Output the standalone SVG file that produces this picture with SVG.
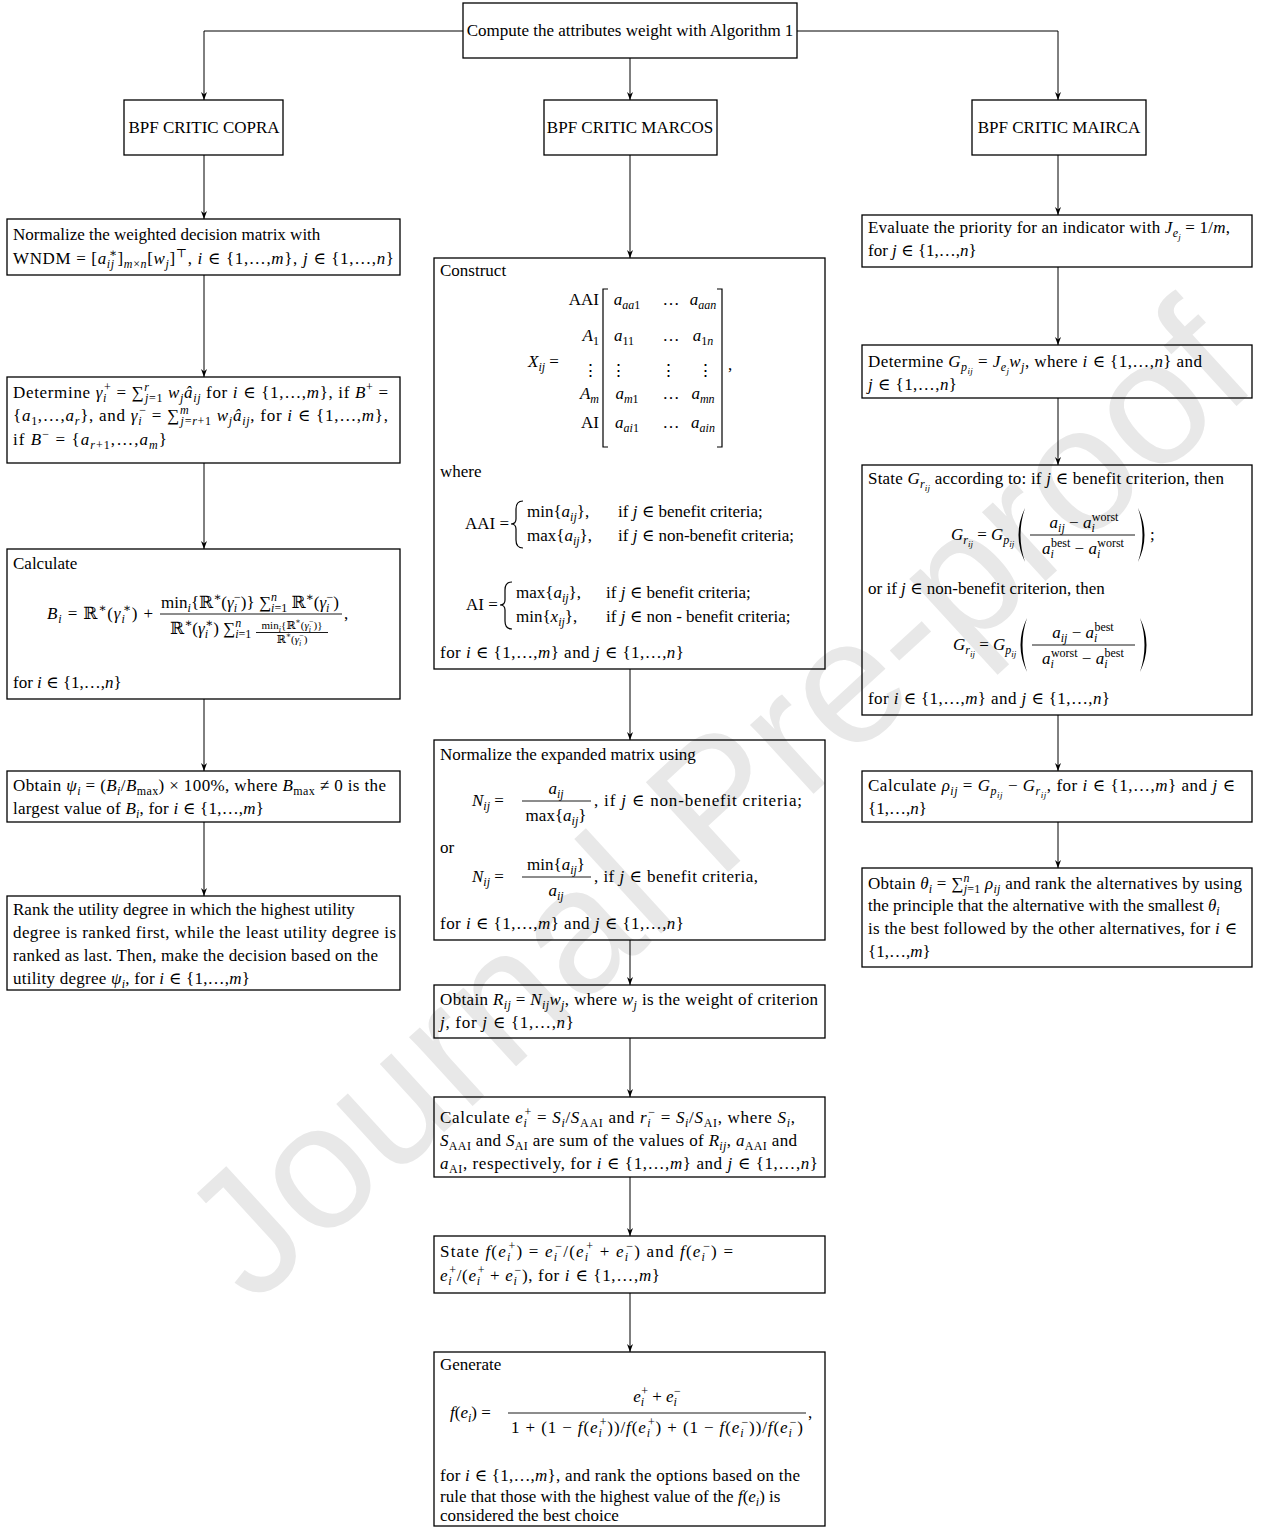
<svg xmlns="http://www.w3.org/2000/svg" width="1265" height="1528" viewBox="0 0 1265 1528">
<style>
.t{font-family:"Liberation Serif","DejaVu Serif",serif;font-size:17px;fill:#000}
.i{font-style:italic}
.sb{font-size:12px;baseline-shift:-4px}
.sp{font-size:12px;baseline-shift:7px}
.sbb{font-size:9px;baseline-shift:-7px}
.box{fill:none;stroke:#000;stroke-width:1.3}
.c{stroke:#000;stroke-width:1;fill:none}
.m{text-anchor:middle}
.e{text-anchor:end}
.bar{stroke:#000;stroke-width:0.9}
.br{fill:none;stroke:#000;stroke-width:1.2}
.wm{font-family:"Liberation Sans",Arial,sans-serif;font-size:177px;fill:#e8e8e8}
</style>
<defs>
<marker id="ah" markerUnits="userSpaceOnUse" markerWidth="10" markerHeight="8" refX="8" refY="4" orient="auto">
<path d="M0,1 L8,4 L0,7 L2.5,4 z" fill="#000"/>
</marker>
</defs>
<rect width="1265" height="1528" fill="#fff"/>
<text class="wm m" transform="translate(714,798) rotate(-42.5)" y="64">Journal Pre-proof</text>

<g id="connectors" class="c" marker-end="url(#ah)">
<path d="M463,31 H204 V100"/>
<path d="M797,31 H1058 V100"/>
<path d="M630,58 V100"/>
<path d="M204,155 V219"/>
<path d="M204,275 V377"/>
<path d="M204,463 V549"/>
<path d="M204,699 V771"/>
<path d="M204,822 V896"/>
<path d="M630,155 V258"/>
<path d="M630,669 V740"/>
<path d="M630,940 V985"/>
<path d="M630,1038 V1097"/>
<path d="M630,1177 V1236"/>
<path d="M630,1293 V1352"/>
<path d="M1058,155 V215"/>
<path d="M1058,267 V345"/>
<path d="M1058,398 V465"/>
<path d="M1058,715 V771"/>
<path d="M1058,822 V868"/>
</g>

<g class="t">
<g id="n-top">
<rect class="box" x="463" y="3" width="334" height="55"/>
<text class="m" x="630" y="36">Compute the attributes weight with Algorithm 1</text>
</g>
<g id="n-copra">
<rect class="box" x="124" y="100" width="159" height="55"/>
<text class="m" x="204" y="133">BPF CRITIC COPRA</text>
</g>
<g id="n-marcos">
<rect class="box" x="544" y="100" width="173" height="55"/>
<text class="m" x="630" y="133">BPF CRITIC MARCOS</text>
</g>
<g id="n-mairca">
<rect class="box" x="972" y="100" width="174" height="55"/>
<text class="m" x="1059" y="133">BPF CRITIC MAIRCA</text>
</g>

<g id="n-l1">
<rect class="box" x="7" y="219" width="393" height="56"/>
<text x="13" y="240">Normalize the weighted decision matrix with</text>
<text x="13" y="264" textLength="381" lengthAdjust="spacing">WNDM = [<tspan class="i">a</tspan><tspan class="sb i">ij</tspan><tspan class="sp" dx="-6">∗</tspan>]<tspan class="sb"><tspan class="i">m</tspan>×<tspan class="i">n</tspan></tspan>[<tspan class="i">w</tspan><tspan class="sb i">j</tspan>]<tspan class="sp">⊤</tspan>, <tspan class="i">i</tspan> ∈ {1,…,<tspan class="i">m</tspan>}, <tspan class="i">j</tspan> ∈ {1,…,<tspan class="i">n</tspan>}</text>
</g>
<g id="n-l2">
<rect class="box" x="7" y="377" width="393" height="86"/>
<text x="13" y="398" textLength="375" lengthAdjust="spacing">Determine <tspan class="i">γ</tspan><tspan class="sb i">i</tspan><tspan class="sp" dx="-3">+</tspan> = ∑<tspan class="sp i">r</tspan><tspan class="sb" dx="-4.7"><tspan class="i">j</tspan>=1</tspan> <tspan class="i">w</tspan><tspan class="sb i">j</tspan><tspan class="i">â</tspan><tspan class="sb i">ij</tspan> for <tspan class="i">i</tspan> ∈ {1,…,<tspan class="i">m</tspan>}, if <tspan class="i">B</tspan><tspan class="sp">+</tspan> =</text>
<text x="13" y="421" textLength="375" lengthAdjust="spacing">{<tspan class="i">a</tspan><tspan class="sb">1</tspan>,…,<tspan class="i">a</tspan><tspan class="sb i">r</tspan>}, and <tspan class="i">γ</tspan><tspan class="sb i">i</tspan><tspan class="sp" dx="-3">−</tspan> = ∑<tspan class="sp i">m</tspan><tspan class="sb" dx="-8.7"><tspan class="i">j</tspan>=<tspan class="i">r</tspan>+1</tspan> <tspan class="i">w</tspan><tspan class="sb i">j</tspan><tspan class="i">â</tspan><tspan class="sb i">ij</tspan>, for <tspan class="i">i</tspan> ∈ {1,…,<tspan class="i">m</tspan>},</text>
<text x="13" y="445" textLength="154" lengthAdjust="spacing">if <tspan class="i">B</tspan><tspan class="sp">−</tspan> = {<tspan class="i">a</tspan><tspan class="sb"><tspan class="i">r</tspan>+1</tspan>,…,<tspan class="i">a</tspan><tspan class="sb i">m</tspan>}</text>
</g>
<g id="n-l3">
<rect class="box" x="7" y="549" width="393" height="150"/>
<text x="13" y="569">Calculate</text>
<text x="47" y="619" textLength="106" lengthAdjust="spacing"><tspan class="i">B</tspan><tspan class="sb i">i</tspan> = ℝ<tspan class="sp">∗</tspan>(<tspan class="i">γ</tspan><tspan class="sb i">i</tspan><tspan class="sp" dx="-3">∗</tspan>) +</text>
<line class="bar" x1="160" y1="614" x2="342" y2="614"/>
<text class="m" x="250" y="608">min<tspan class="sb i">i</tspan>{ℝ<tspan class="sp">∗</tspan>(<tspan class="i">γ</tspan><tspan class="sb i">i</tspan><tspan class="sp" dx="-3">−</tspan>)} ∑<tspan class="sp i">n</tspan><tspan class="sb" dx="-6"><tspan class="i">i</tspan>=1</tspan> ℝ<tspan class="sp">∗</tspan>(<tspan class="i">γ</tspan><tspan class="sb i">i</tspan><tspan class="sp" dx="-3">−</tspan>)</text>
<text x="170" y="634">ℝ<tspan class="sp">∗</tspan>(<tspan class="i">γ</tspan><tspan class="sb i">i</tspan><tspan class="sp" dx="-3">∗</tspan>) ∑<tspan class="sp i">n</tspan><tspan class="sb" dx="-6"><tspan class="i">i</tspan>=1</tspan></text>
<line class="bar" x1="256" y1="632.5" x2="328" y2="632.5"/>
<text class="m" x="292" y="629" style="font-size:11px">min<tspan style="font-size:8px;baseline-shift:-3px" class="i">i</tspan>{ℝ<tspan style="font-size:8px;baseline-shift:5px">∗</tspan>(<tspan class="i">γ</tspan><tspan style="font-size:8px;baseline-shift:-3px" class="i">i</tspan><tspan style="font-size:8px;baseline-shift:5px" dx="-2">−</tspan>)}</text>
<text class="m" x="292" y="643" style="font-size:11px">ℝ<tspan style="font-size:8px;baseline-shift:5px">∗</tspan>(<tspan class="i">γ</tspan><tspan style="font-size:8px;baseline-shift:-3px" class="i">i</tspan><tspan style="font-size:8px;baseline-shift:5px" dx="-2">−</tspan>)</text>
<text x="344" y="619">,</text>
<text x="13" y="688">for <tspan class="i">i</tspan> ∈ {1,…,<tspan class="i">n</tspan>}</text>
</g>
<g id="n-l4">
<rect class="box" x="7" y="771" width="393" height="51"/>
<text x="13" y="791" textLength="373" lengthAdjust="spacing">Obtain <tspan class="i">ψ</tspan><tspan class="sb i">i</tspan> = (<tspan class="i">B</tspan><tspan class="sb i">i</tspan>/<tspan class="i">B</tspan><tspan class="sb">max</tspan>) × 100%, where <tspan class="i">B</tspan><tspan class="sb">max</tspan> ≠ 0 is the</text>
<text x="13" y="814" textLength="251" lengthAdjust="spacing">largest value of <tspan class="i">B</tspan><tspan class="sb i">i</tspan>, for <tspan class="i">i</tspan> ∈ {1,…,<tspan class="i">m</tspan>}</text>
</g>
<g id="n-l5">
<rect class="box" x="7" y="896" width="393" height="94"/>
<text x="13" y="915">Rank the utility degree in which the highest utility</text>
<text x="13" y="938" textLength="383" lengthAdjust="spacing">degree is ranked first, while the least utility degree is</text>
<text x="13" y="961" textLength="365" lengthAdjust="spacing">ranked as last. Then, make the decision based on the</text>
<text x="13" y="984" textLength="237" lengthAdjust="spacing">utility degree <tspan class="i">ψ</tspan><tspan class="sb i">i</tspan>, for <tspan class="i">i</tspan> ∈ {1,…,<tspan class="i">m</tspan>}</text>
</g>

<g id="n-m1">
<rect class="box" x="434" y="258" width="391" height="411"/>
<text x="440" y="276">Construct</text>
<text x="528" y="367"><tspan class="i">X</tspan><tspan class="sb i">ij</tspan> =</text>
<text class="e" x="599" y="305">AAI</text>
<text class="e" x="599" y="341"><tspan class="i">A</tspan><tspan class="sb">1</tspan></text>
<text class="e" x="599" y="376">⋮</text>
<text class="e" x="599" y="399"><tspan class="i">A</tspan><tspan class="sb i">m</tspan></text>
<text class="e" x="599" y="428">AI</text>
<path class="br" d="M608,289 H603 V447 H608 M717,289 H722 V447 H717"/>
<text class="m" x="627" y="305"><tspan class="i">a</tspan><tspan class="sb"><tspan class="i">aa</tspan>1</tspan></text>
<text class="m" x="671" y="305">…</text>
<text class="m" x="703" y="305"><tspan class="i">a</tspan><tspan class="sb i">aan</tspan></text>
<text class="m" x="624" y="341"><tspan class="i">a</tspan><tspan class="sb">11</tspan></text>
<text class="m" x="671" y="341">…</text>
<text class="m" x="703" y="341"><tspan class="i">a</tspan><tspan class="sb">1<tspan class="i">n</tspan></tspan></text>
<text class="m" x="618" y="376">⋮</text>
<text class="m" x="668" y="376">⋮</text>
<text class="m" x="705" y="376">⋮</text>
<text class="m" x="627" y="399"><tspan class="i">a</tspan><tspan class="sb"><tspan class="i">m</tspan>1</tspan></text>
<text class="m" x="671" y="399">…</text>
<text class="m" x="703" y="399"><tspan class="i">a</tspan><tspan class="sb i">mn</tspan></text>
<text class="m" x="627" y="428"><tspan class="i">a</tspan><tspan class="sb"><tspan class="i">ai</tspan>1</tspan></text>
<text class="m" x="671" y="428">…</text>
<text class="m" x="703" y="428"><tspan class="i">a</tspan><tspan class="sb i">ain</tspan></text>
<text x="728" y="370">,</text>
<text x="440" y="477">where</text>
<text x="465" y="529">AAI =</text>
<path class="br" d="M523,501 Q516,501 516,509 V519 Q516,524 511,524 Q516,524 516,529 V540 Q516,548 523,548"/>
<text x="527" y="517">min{<tspan class="i">a</tspan><tspan class="sb i">ij</tspan>},</text>
<text x="618" y="517">if <tspan class="i">j</tspan> ∈ benefit criteria;</text>
<text x="527" y="541">max{<tspan class="i">a</tspan><tspan class="sb i">ij</tspan>},</text>
<text x="618" y="541">if <tspan class="i">j</tspan> ∈ non-benefit criteria;</text>
<text x="466" y="610">AI =</text>
<path class="br" d="M512,582 Q505,582 505,590 V600 Q505,605 500,605 Q505,605 505,610 V621 Q505,629 512,629"/>
<text x="516" y="598">max{<tspan class="i">a</tspan><tspan class="sb i">ij</tspan>},</text>
<text x="606" y="598">if <tspan class="i">j</tspan> ∈ benefit criteria;</text>
<text x="516" y="622">min{<tspan class="i">x</tspan><tspan class="sb i">ij</tspan>},</text>
<text x="606" y="622">if <tspan class="i">j</tspan> ∈ non - benefit criteria;</text>
<text x="440" y="658" textLength="244" lengthAdjust="spacing">for <tspan class="i">i</tspan> ∈ {1,…,<tspan class="i">m</tspan>} and <tspan class="i">j</tspan> ∈ {1,…,<tspan class="i">n</tspan>}</text>
</g>
<g id="n-m2">
<rect class="box" x="434" y="740" width="391" height="200"/>
<text x="440" y="760">Normalize the expanded matrix using</text>
<text x="472" y="806"><tspan class="i">N</tspan><tspan class="sb i">ij</tspan> =</text>
<line class="bar" x1="522" y1="801" x2="591" y2="801"/>
<text class="m" x="556" y="794"><tspan class="i">a</tspan><tspan class="sb i">ij</tspan></text>
<text class="m" x="556" y="821">max{<tspan class="i">a</tspan><tspan class="sb i">ij</tspan>}</text>
<text x="594" y="806" textLength="208" lengthAdjust="spacing">, if <tspan class="i">j</tspan> ∈ non-benefit criteria;</text>
<text x="440" y="853">or</text>
<text x="472" y="882"><tspan class="i">N</tspan><tspan class="sb i">ij</tspan> =</text>
<line class="bar" x1="522" y1="877" x2="591" y2="877"/>
<text class="m" x="556" y="870">min{<tspan class="i">a</tspan><tspan class="sb i">ij</tspan>}</text>
<text class="m" x="556" y="896"><tspan class="i">a</tspan><tspan class="sb i">ij</tspan></text>
<text x="594" y="882" textLength="164" lengthAdjust="spacing">, if <tspan class="i">j</tspan> ∈ benefit criteria,</text>
<text x="440" y="929" textLength="244" lengthAdjust="spacing">for <tspan class="i">i</tspan> ∈ {1,…,<tspan class="i">m</tspan>} and <tspan class="i">j</tspan> ∈ {1,…,<tspan class="i">n</tspan>}</text>
</g>
<g id="n-m3">
<rect class="box" x="434" y="985" width="391" height="53"/>
<text x="440" y="1005" textLength="378" lengthAdjust="spacing">Obtain <tspan class="i">R</tspan><tspan class="sb i">ij</tspan> = <tspan class="i">N</tspan><tspan class="sb i">ij</tspan><tspan class="i">w</tspan><tspan class="sb i">j</tspan>, where <tspan class="i">w</tspan><tspan class="sb i">j</tspan> is the weight of criterion</text>
<text x="440" y="1028" textLength="134" lengthAdjust="spacing"><tspan class="i">j</tspan>, for <tspan class="i">j</tspan> ∈ {1,…,<tspan class="i">n</tspan>}</text>
</g>
<g id="n-m4">
<rect class="box" x="434" y="1097" width="391" height="80"/>
<text x="440" y="1123" textLength="355" lengthAdjust="spacing">Calculate <tspan class="i">e</tspan><tspan class="sb i">i</tspan><tspan class="sp" dx="-3">+</tspan> = <tspan class="i">S</tspan><tspan class="sb i">i</tspan>/<tspan class="i">S</tspan><tspan class="sb">AAI</tspan> and <tspan class="i">r</tspan><tspan class="sb i">i</tspan><tspan class="sp" dx="-3">−</tspan> = <tspan class="i">S</tspan><tspan class="sb i">i</tspan>/<tspan class="i">S</tspan><tspan class="sb">AI</tspan>, where <tspan class="i">S</tspan><tspan class="sb i">i</tspan>,</text>
<text x="440" y="1146" textLength="357" lengthAdjust="spacing"><tspan class="i">S</tspan><tspan class="sb">AAI</tspan> and <tspan class="i">S</tspan><tspan class="sb">AI</tspan> are sum of the values of <tspan class="i">R</tspan><tspan class="sb i">ij</tspan>, <tspan class="i">a</tspan><tspan class="sb">AAI</tspan> and</text>
<text x="440" y="1169" textLength="378" lengthAdjust="spacing"><tspan class="i">a</tspan><tspan class="sb">AI</tspan>, respectively, for <tspan class="i">i</tspan> ∈ {1,…,<tspan class="i">m</tspan>} and <tspan class="i">j</tspan> ∈ {1,…,<tspan class="i">n</tspan>}</text>
</g>
<g id="n-m5">
<rect class="box" x="434" y="1236" width="391" height="57"/>
<text x="440" y="1257" textLength="293" lengthAdjust="spacing">State <tspan class="i">f</tspan>(<tspan class="i">e</tspan><tspan class="sb i">i</tspan><tspan class="sp" dx="-3">+</tspan>) = <tspan class="i">e</tspan><tspan class="sb i">i</tspan><tspan class="sp" dx="-3">−</tspan>/(<tspan class="i">e</tspan><tspan class="sb i">i</tspan><tspan class="sp" dx="-3">+</tspan> + <tspan class="i">e</tspan><tspan class="sb i">i</tspan><tspan class="sp" dx="-3">−</tspan>) and <tspan class="i">f</tspan>(<tspan class="i">e</tspan><tspan class="sb i">i</tspan><tspan class="sp" dx="-3">−</tspan>) =</text>
<text x="440" y="1281" textLength="220" lengthAdjust="spacing"><tspan class="i">e</tspan><tspan class="sb i">i</tspan><tspan class="sp" dx="-3">+</tspan>/(<tspan class="i">e</tspan><tspan class="sb i">i</tspan><tspan class="sp" dx="-3">+</tspan> + <tspan class="i">e</tspan><tspan class="sb i">i</tspan><tspan class="sp" dx="-3">−</tspan>), for <tspan class="i">i</tspan> ∈ {1,…,<tspan class="i">m</tspan>}</text>
</g>
<g id="n-m6">
<rect class="box" x="434" y="1352" width="391" height="174"/>
<text x="440" y="1370">Generate</text>
<text x="450" y="1418"><tspan class="i">f</tspan>(<tspan class="i">e</tspan><tspan class="sb i">i</tspan>) =</text>
<line class="bar" x1="508" y1="1413" x2="806" y2="1413"/>
<text class="m" x="657" y="1402"><tspan class="i">e</tspan><tspan class="sb i">i</tspan><tspan class="sp" dx="-3">+</tspan> + <tspan class="i">e</tspan><tspan class="sb i">i</tspan><tspan class="sp" dx="-3">−</tspan></text>
<text class="m" x="657" y="1433" textLength="292" lengthAdjust="spacing">1 + (1 − <tspan class="i">f</tspan>(<tspan class="i">e</tspan><tspan class="sb i">i</tspan><tspan class="sp" dx="-3">+</tspan>))/<tspan class="i">f</tspan>(<tspan class="i">e</tspan><tspan class="sb i">i</tspan><tspan class="sp" dx="-3">+</tspan>) + (1 − <tspan class="i">f</tspan>(<tspan class="i">e</tspan><tspan class="sb i">i</tspan><tspan class="sp" dx="-3">−</tspan>))/<tspan class="i">f</tspan>(<tspan class="i">e</tspan><tspan class="sb i">i</tspan><tspan class="sp" dx="-3">−</tspan>)</text>
<text x="808" y="1418">,</text>
<text x="440" y="1481" textLength="360" lengthAdjust="spacing">for <tspan class="i">i</tspan> ∈ {1,…,<tspan class="i">m</tspan>}, and rank the options based on the</text>
<text x="440" y="1502">rule that those with the highest value of the <tspan class="i">f</tspan>(<tspan class="i">e</tspan><tspan class="sb i">i</tspan>) is</text>
<text x="440" y="1521">considered the best choice</text>
</g>

<g id="n-r1">
<rect class="box" x="862" y="215" width="390" height="52"/>
<text x="868" y="233" textLength="362" lengthAdjust="spacing">Evaluate the priority for an indicator with <tspan class="i">J</tspan><tspan class="sb i">e</tspan><tspan class="sbb i">j</tspan> = 1/<tspan class="i">m</tspan>,</text>
<text x="868" y="256">for <tspan class="i">j</tspan> ∈ {1,…,<tspan class="i">n</tspan>}</text>
</g>
<g id="n-r2">
<rect class="box" x="862" y="345" width="390" height="53"/>
<text x="868" y="367" textLength="334" lengthAdjust="spacing">Determine <tspan class="i">G</tspan><tspan class="sb i">p</tspan><tspan class="sbb i">ij</tspan> = <tspan class="i">J</tspan><tspan class="sb i">e</tspan><tspan class="sbb i">j</tspan><tspan class="i">w</tspan><tspan class="sb i">j</tspan>, where <tspan class="i">i</tspan> ∈ {1,…,<tspan class="i">n</tspan>} and</text>
<text x="868" y="390" textLength="89" lengthAdjust="spacing"><tspan class="i">j</tspan> ∈ {1,…,<tspan class="i">n</tspan>}</text>
</g>
<g id="n-r3">
<rect class="box" x="862" y="465" width="390" height="250"/>
<text x="868" y="484" textLength="356" lengthAdjust="spacing">State <tspan class="i">G</tspan><tspan class="sb i">r</tspan><tspan class="sbb i">ij</tspan> according to: if <tspan class="i">j</tspan> ∈ benefit criterion, then</text>
<text x="951" y="540"><tspan class="i">G</tspan><tspan class="sb i">r</tspan><tspan class="sbb i">ij</tspan> = <tspan class="i">G</tspan><tspan class="sb i">p</tspan><tspan class="sbb i">ij</tspan></text>
<path d="M1025,508 Q1012,535 1025,562 Q1016,535 1025,508 Z M1138,508 Q1151,535 1138,562 Q1147,535 1138,508 Z" fill="#000"/>
<line class="bar" x1="1030" y1="535" x2="1135" y2="535"/>
<text class="m" x="1084" y="528"><tspan class="i">a</tspan><tspan class="sb i">ij</tspan> − <tspan class="i">a</tspan><tspan class="sb i">i</tspan><tspan class="sp" dx="-3">worst</tspan></text>
<text class="m" x="1083" y="554"><tspan class="i">a</tspan><tspan class="sb i">i</tspan><tspan class="sp" dx="-3">best</tspan> − <tspan class="i">a</tspan><tspan class="sb i">i</tspan><tspan class="sp" dx="-3">worst</tspan></text>
<text x="1150" y="540">;</text>
<text x="868" y="594">or if <tspan class="i">j</tspan> ∈ non-benefit criterion, then</text>
<text x="953" y="650"><tspan class="i">G</tspan><tspan class="sb i">r</tspan><tspan class="sbb i">ij</tspan> = <tspan class="i">G</tspan><tspan class="sb i">p</tspan><tspan class="sbb i">ij</tspan></text>
<path d="M1027,618 Q1014,645 1027,672 Q1018,645 1027,618 Z M1140,618 Q1153,645 1140,672 Q1149,645 1140,618 Z" fill="#000"/>
<line class="bar" x1="1032" y1="645" x2="1135" y2="645"/>
<text class="m" x="1083" y="638"><tspan class="i">a</tspan><tspan class="sb i">ij</tspan> − <tspan class="i">a</tspan><tspan class="sb i">i</tspan><tspan class="sp" dx="-3">best</tspan></text>
<text class="m" x="1083" y="664"><tspan class="i">a</tspan><tspan class="sb i">i</tspan><tspan class="sp" dx="-3">worst</tspan> − <tspan class="i">a</tspan><tspan class="sb i">i</tspan><tspan class="sp" dx="-3">best</tspan></text>
<text x="868" y="704" textLength="242" lengthAdjust="spacing">for <tspan class="i">i</tspan> ∈ {1,…,<tspan class="i">m</tspan>} and <tspan class="i">j</tspan> ∈ {1,…,<tspan class="i">n</tspan>}</text>
</g>
<g id="n-r4">
<rect class="box" x="862" y="771" width="390" height="51"/>
<text x="868" y="791" textLength="367" lengthAdjust="spacing">Calculate <tspan class="i">ρ</tspan><tspan class="sb i">ij</tspan> = <tspan class="i">G</tspan><tspan class="sb i">p</tspan><tspan class="sbb i">ij</tspan> − <tspan class="i">G</tspan><tspan class="sb i">r</tspan><tspan class="sbb i">ij</tspan>, for <tspan class="i">i</tspan> ∈ {1,…,<tspan class="i">m</tspan>} and <tspan class="i">j</tspan> ∈</text>
<text x="868" y="814">{1,…,<tspan class="i">n</tspan>}</text>
</g>
<g id="n-r5">
<rect class="box" x="862" y="868" width="390" height="99"/>
<text x="868" y="889" textLength="374" lengthAdjust="spacing">Obtain <tspan class="i">θ</tspan><tspan class="sb i">i</tspan> = ∑<tspan class="sp i">n</tspan><tspan class="sb" dx="-6"><tspan class="i">j</tspan>=1</tspan> <tspan class="i">ρ</tspan><tspan class="sb i">ij</tspan> and rank the alternatives by using</text>
<text x="868" y="911">the principle that the alternative with the smallest <tspan class="i">θ</tspan><tspan class="sb i">i</tspan></text>
<text x="868" y="934" textLength="369" lengthAdjust="spacing">is the best followed by the other alternatives, for <tspan class="i">i</tspan> ∈</text>
<text x="868" y="957">{1,…,<tspan class="i">m</tspan>}</text>
</g>
</g>
</svg>
